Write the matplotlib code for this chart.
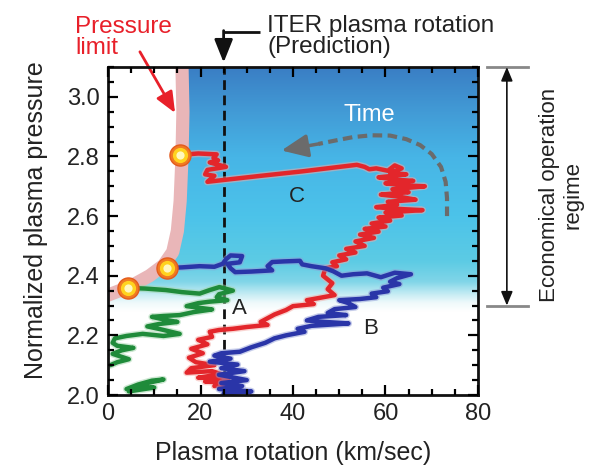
import numpy as np
import matplotlib
matplotlib.use('Agg')
import matplotlib.pyplot as plt
import matplotlib.patheffects as pe
from matplotlib.patches import Polygon
from matplotlib.ticker import MultipleLocator, FormatStrFormatter
from matplotlib.colors import to_rgb

plt.rcParams['font.family'] = ['Liberation Sans', 'DejaVu Sans']

# ---------------- data ----------------
x_ticks = [0, 20, 40, 60, 80]
y_ticks = [2.0, 2.2, 2.4, 2.6, 2.8, 3.0]
iter_rotation = 25

# Trajectory C (red)
red_x = [15.6, 19.5, 23.5, 22.8, 23.8, 22.0, 25.5, 21.5, 21.0, 23.0, 21.5, 25.5, 33.0, 42.0, 50.0,
         53.8, 55.5, 56.5, 58.0, 60.5, 62.0, 63.5, 61.0, 64.5, 58.5, 62.5, 66.0, 60.0, 64.0, 68.5,
         61.5, 65.0, 59.0, 63.0, 66.5, 60.5, 62.5, 58.0, 61.5, 68.0, 60.0, 63.5, 58.5, 61.0, 57.0,
         60.0, 55.5, 58.5, 54.5, 57.5, 53.5, 55.5, 51.5, 53.5, 50.0, 51.5, 48.5, 49.5, 47.0, 46.5,
         48.5, 47.5, 49.0, 45.5, 43.0, 44.5, 40.0, 38.5, 36.0, 33.0, 34.5, 30.0, 27.0, 24.0, 22.0,
         22.5, 19.5, 21.5, 18.0, 20.5, 17.5, 19.0, 23.0, 18.0, 17.0, 22.5, 24.5, 19.5, 26.0, 21.0,
         27.5, 23.0]
red_y = [2.805, 2.810, 2.807, 2.795, 2.787, 2.780, 2.765, 2.755, 2.740, 2.735, 2.715, 2.722, 2.735, 2.750, 2.765,
         2.772, 2.765, 2.757, 2.760, 2.752, 2.770, 2.760, 2.745, 2.740, 2.730, 2.722, 2.718, 2.710, 2.703, 2.700,
         2.690, 2.680, 2.672, 2.665, 2.655, 2.648, 2.638, 2.630, 2.625, 2.620, 2.612, 2.602, 2.595, 2.585, 2.575,
         2.565, 2.557, 2.548, 2.538, 2.527, 2.515, 2.500, 2.490, 2.478, 2.468, 2.455, 2.445, 2.432, 2.425, 2.400,
         2.375, 2.355, 2.335, 2.325, 2.318, 2.305, 2.298, 2.285, 2.270, 2.245, 2.235, 2.228, 2.222, 2.218, 2.212,
         2.195, 2.185, 2.170, 2.155, 2.140, 2.125, 2.110, 2.100, 2.090, 2.075, 2.080, 2.070, 2.058, 2.055, 2.045,
         2.040, 2.030]

# Trajectory B (blue)
blue_x = [12.7, 16.0, 19.8, 23.0, 24.8, 25.5, 26.5, 29.0, 28.5, 25.8, 26.5, 27.5, 31.0, 35.5, 34.5,
          35.5, 38.0, 41.5, 42.0, 44.0, 47.0, 48.7, 50.5, 53.0, 56.0, 59.0, 62.0, 65.5, 62.5, 61.0,
          63.0, 59.5, 60.5, 57.0, 58.0, 54.5, 50.0, 52.0, 53.5, 49.0, 47.5, 51.5, 45.5, 43.0, 47.0,
          52.0, 44.0, 41.0, 42.5, 38.5, 36.0, 34.0, 31.0, 28.5, 24.5, 23.0, 26.5, 22.0, 28.0, 24.5,
          29.5, 24.0, 30.0, 24.5, 29.0, 24.0, 31.0, 25.0]
blue_y = [2.426, 2.428, 2.432, 2.430, 2.440, 2.455, 2.468, 2.466, 2.445, 2.440, 2.425, 2.412, 2.414, 2.418, 2.432,
          2.446, 2.448, 2.450, 2.438, 2.432, 2.425, 2.415, 2.400, 2.405, 2.408, 2.395, 2.410, 2.405, 2.392, 2.380,
          2.372, 2.360, 2.348, 2.340, 2.328, 2.322, 2.318, 2.308, 2.295, 2.288, 2.275, 2.268, 2.262, 2.250, 2.245,
          2.240, 2.232, 2.222, 2.212, 2.200, 2.190, 2.175, 2.160, 2.145, 2.140, 2.132, 2.122, 2.112, 2.102, 2.090,
          2.080, 2.068, 2.050, 2.040, 2.030, 2.020, 2.012, 2.005]

# Trajectory A (green)
green_x = [4.4, 8.0, 12.5, 16.0, 19.8, 22.0, 24.1, 27.0, 24.0, 23.5, 25.8, 22.0, 19.5, 17.0, 20.0,
           22.5, 18.5, 15.5, 12.0, 9.5, 12.5, 15.0, 11.0, 8.5, 11.5, 15.5, 12.0, 7.5, 4.0, 1.5,
           1.0, 2.0, 5.5, 3.0, 1.0, 4.5, 2.0, 0.5]
green_y = [2.359, 2.357, 2.352, 2.345, 2.340, 2.352, 2.362, 2.350, 2.338, 2.328, 2.318, 2.313, 2.308, 2.298, 2.292,
           2.287, 2.278, 2.268, 2.265, 2.262, 2.252, 2.245, 2.238, 2.230, 2.220, 2.205, 2.198, 2.205, 2.198, 2.190,
           2.175, 2.165, 2.158, 2.150, 2.138, 2.120, 2.110, 2.100]
green2_x = [4.0, 6.5, 9.5, 12.0, 8.5, 6.0, 10.0, 7.0, 4.5]
green2_y = [2.020, 2.035, 2.048, 2.052, 2.040, 2.028, 2.025, 2.018, 2.012]

# Start points (pressure limit hits)
start_x = [15.6, 12.7, 4.4]
start_y = [2.805, 2.426, 2.359]

# Pressure limit band (centre line)
limit_x = [16.0, 16.0, 16.2, 16.0, 15.6, 15.0, 14.0, 12.0, 9.0, 5.5, 2.5, 0.0, -1.0]
limit_y = [3.15, 3.10, 2.95, 2.80, 2.65, 2.55, 2.48, 2.435, 2.40, 2.37, 2.35, 2.335, 2.33]

# "Time" arrow path
time_x = [73.3, 73.3, 73.0, 72.0, 70.0, 67.5, 64.5, 61.0, 57.0, 53.0, 49.0, 45.5]
time_y = [2.600, 2.660, 2.715, 2.765, 2.808, 2.838, 2.858, 2.870, 2.871, 2.865, 2.853, 2.842]

# Background gradient stops
grad_y = [2.0, 2.28, 2.31, 2.34, 2.38, 2.45, 2.60, 2.80, 2.95, 3.10]
grad_c = ['#ffffff', '#ffffff', '#eef9fb', '#c2ebf3', '#80d5e8', '#5ccbe4', '#4cc3ea',
          '#47b5e6', '#429bd6', '#3a7ec4']

# ---------------- figure ----------------
fig = plt.figure(figsize=(5.91, 4.69), dpi=100)
ax = fig.add_axes([108 / 591, 74 / 469, 370 / 591, 328 / 469])
ax.set_axisbelow(False)

ys = np.linspace(2.0, 3.1, 400)
rgb = np.array([to_rgb(c) for c in grad_c])
img = np.stack([np.interp(ys, grad_y, rgb[:, k]) for k in range(3)], axis=-1)[:, None, :]
im = ax.imshow(img, extent=[0, 80, 2.0, 3.1], origin='lower', aspect='auto',
               interpolation='bilinear', zorder=0)
clip_pts = list(zip(limit_x, limit_y)) + [(-1, 2.0), (81, 2.0), (81, 3.15)]
clip_poly = Polygon(clip_pts, closed=True, transform=ax.transData, facecolor='none', edgecolor='none')
im.set_clip_path(clip_poly)

ax.plot(limit_x, limit_y, color='#e9b6b8', lw=9.5, solid_capstyle='butt',
        solid_joinstyle='round', zorder=1)

ax.axvline(iter_rotation, color='#111111', lw=2, dashes=(3.5, 2), zorder=3)

ax.plot(time_x, time_y, color='#6b6b6b', lw=3, dashes=(2.3, 1.3), zorder=3)
ax.annotate('', xy=(37.5, 2.82), xytext=(time_x[-1], time_y[-1]),
            arrowprops=dict(arrowstyle='-|>,head_length=0.8,head_width=0.35', color='#6b6b6b',
                            lw=2.5, shrinkA=0, shrinkB=0, mutation_scale=20), zorder=3)

def trace(x, y, c, glow):
    ax.plot(x, y, color=c, lw=3.2, solid_joinstyle='round', solid_capstyle='round', zorder=4,
            path_effects=[pe.Stroke(linewidth=5.2, foreground=glow, alpha=0.5, joinstyle='round',
                                    capstyle='round'), pe.Normal()])

trace(red_x, red_y, '#e3262b', '#f4a9a3')
trace(blue_x, blue_y, '#2a35a8', '#8f9bd6')
trace(green_x, green_y, '#1f8b3a', '#9fd3a8')
trace(green2_x, green2_y, '#1f8b3a', '#9fd3a8')

ax.scatter(start_x, start_y, s=230, color='#f07a22', edgecolor='#e45a1c', lw=1, zorder=6)
ax.scatter(start_x, start_y, s=120, color='#ffd21f', lw=0, zorder=7)
ax.scatter(start_x, start_y, s=35, color='#fff7c0', lw=0, zorder=8)

ax.text(28.5, 2.29, 'A', fontsize=16, color='#222222', ha='center', va='center', zorder=9)
ax.text(56.7, 2.222, 'B', fontsize=16, color='#222222', ha='center', va='center', zorder=9)
ax.text(40.9, 2.665, 'C', fontsize=16, color='#222222', ha='center', va='center', zorder=9)
ax.text(56.6, 2.94, 'Time', fontsize=17, color='white', ha='center', va='center', zorder=9)

ax.set_xlim(0, 80)
ax.set_ylim(2.0, 3.1)
ax.set_xticks(x_ticks)
ax.set_yticks(y_ticks)
ax.xaxis.set_minor_locator(MultipleLocator(5))
ax.yaxis.set_minor_locator(MultipleLocator(0.05))
ax.yaxis.set_major_formatter(FormatStrFormatter('%.1f'))
ax.tick_params(which='both', direction='in', top=True, right=True, width=1.6, color='#000000',
               labelsize=17, labelcolor='#222222')
ax.tick_params(which='major', length=7, pad=6)
ax.tick_params(which='minor', length=4.5)
ax.xaxis.set_zorder(11)
ax.yaxis.set_zorder(11)
for s in ax.spines.values():
    s.set_linewidth(2)
    s.set_color('#111111')
    s.set_zorder(10)

ax.set_xlabel('Plasma rotation (km/sec)', fontsize=18, color='#222222')
ax.xaxis.set_label_coords(0.5, -0.14)
ax.set_ylabel('Normalized plasma pressure', fontsize=18, color='#222222')
ax.yaxis.set_label_coords(-0.162, 0.534)

# ITER annotation
ax.text(34.4, 3.218, 'ITER plasma rotation', fontsize=17.5, color='#222222', va='baseline',
        ha='left', clip_on=False)
ax.text(34.4, 3.148, '(Prediction)', fontsize=17.5, color='#222222', va='baseline',
        ha='left', clip_on=False)
ax.plot([32.9, iter_rotation], [3.218, 3.218], color='#111111', lw=2, clip_on=False,
        solid_capstyle='butt')
ax.annotate('', xy=(iter_rotation, 3.115), xytext=(iter_rotation, 3.222),
            arrowprops=dict(arrowstyle='-|>,head_length=0.7,head_width=0.28', color='#111111', lw=2,
                            shrinkA=0, shrinkB=0, mutation_scale=20), annotation_clip=False)

# Pressure limit annotation
ax.text(-7.1, 3.215, 'Pressure', fontsize=17.5, color='#e8202a', va='baseline', ha='left',
        clip_on=False)
ax.text(-7.1, 3.144, 'limit', fontsize=17.5, color='#e8202a', va='baseline', ha='left',
        clip_on=False)
ax.annotate('', xy=(14.5, 2.946), xytext=(6.9, 3.151),
            arrowprops=dict(arrowstyle='-|>,head_length=0.7,head_width=0.3', color='#e8202a', lw=2,
                            shrinkA=0, shrinkB=0, mutation_scale=18), annotation_clip=False)

# Economical operation regime bracket
tr = ax.get_yaxis_transform()
for yy in (3.1, 2.30):
    ax.plot([1.024, 1.135], [yy, yy], transform=tr, color='#888888', lw=2, clip_on=False)
ax.annotate('', xy=(1.078, 3.1), xytext=(1.078, 2.30), xycoords=tr, textcoords=tr,
            arrowprops=dict(arrowstyle='<|-|>,head_length=0.6,head_width=0.25', color='#111111', lw=1.2,
                            shrinkA=0, shrinkB=0, mutation_scale=14), annotation_clip=False)
ax.text(1.224, 2.67, 'Economical operation\nregime', transform=tr, rotation=90, ha='center',
        va='center', fontsize=16, color='#222222', linespacing=1.15)

fig.savefig('out.png', dpi=100)
